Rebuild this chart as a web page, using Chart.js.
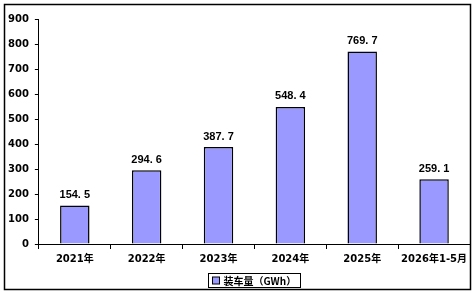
<!DOCTYPE html>
<html>
<head>
<meta charset="utf-8">
<script src="https://cdn.jsdelivr.net/npm/chart.js@4/dist/chart.umd.min.js"></script>
<style>
  html, body { margin: 0; padding: 0; background: #fff; }
  #wrap { width: 475px; height: 294px; }
</style>
</head>
<body>
<div id="wrap"><canvas id="c" width="475" height="294"></canvas></div>
<script>
// données
const categories = ['2021年', '2022年', '2023年', '2024年', '2025年', '2026年1-5月'];
const values = [154.5, 294.6, 387.7, 548.4, 769.7, 259.1];
const yTicks = [0, 100, 200, 300, 400, 500, 600, 700, 800, 900];
const seriesName = '装车量（GWh）';

const fontBold = { family: 'Verdana, "DejaVu Sans", "Noto Sans CJK SC", sans-serif', size: 10, weight: 'bold' };

// cadre extérieur, légende encadrée et étiquettes de valeur
const decor = {
    id: 'decor',
    afterDraw(chart) {
        const ctx = chart.ctx;
        ctx.save();
        ctx.strokeStyle = '#000';
        ctx.lineWidth = 1.5;
        ctx.strokeRect(4.5, 4.5, 466, 285);

        // légende
        ctx.font = 'bold 10px "Noto Sans CJK SC", sans-serif';
        const tw = ctx.measureText(seriesName).width;
        const boxW = Math.round(tw + 19);
        const lx = Math.round((chart.chartArea.left + chart.chartArea.right) / 2 - boxW / 2) + 0.5;
        const ly = 273.5;
        ctx.lineWidth = 1;
        ctx.strokeRect(lx, ly, boxW, 14);
        ctx.fillStyle = '#9999FF';
        ctx.fillRect(lx + 4, ly + 3.5, 7, 7);
        ctx.strokeRect(lx + 4, ly + 3.5, 7, 7);
        ctx.fillStyle = '#000';
        ctx.textAlign = 'left';
        ctx.textBaseline = 'middle';
        ctx.fillText(seriesName, lx + 15, ly + 7.5);

        // valeurs au-dessus des barres
        ctx.font = 'bold 11px "Liberation Sans", Arial, sans-serif';
        ctx.textAlign = 'center';
        ctx.textBaseline = 'bottom';
        const meta = chart.getDatasetMeta(0);
        meta.data.forEach((bar, i) => {
            const txt = values[i].toFixed(1).replace('.', '. ');
            ctx.fillText(txt, bar.x, bar.y - 5);
        });
        ctx.restore();
    }
};

new Chart(document.getElementById('c'), {
    type: 'bar',
    data: {
        labels: categories,
        datasets: [{
            label: seriesName,
            data: values,
            backgroundColor: '#9999FF',
            borderColor: '#000',
            borderWidth: 1.5,
            barPercentage: 0.41,
            categoryPercentage: 1
        }]
    },
    options: {
        responsive: false,
        animation: false,
        layout: { padding: { left: 2, right: 5, top: 19, bottom: 25 } },
        plugins: {
            legend: { display: false },
            tooltip: { enabled: false }
        },
        scales: {
            x: {
                grid: { offset: true, drawOnChartArea: false, drawTicks: true, tickLength: 5, color: '#000' },
                border: { color: '#000', width: 1 },
                ticks: { color: '#000', font: fontBold, maxRotation: 0, padding: 4 }
            },
            y: {
                min: 0,
                max: 900,
                afterBuildTicks(axis) { axis.ticks = yTicks.map(v => ({ value: v })); },
                grid: { drawOnChartArea: false, drawTicks: true, tickLength: 4, color: '#000' },
                border: { color: '#000', width: 1 },
                ticks: { color: '#000', font: fontBold, padding: 6 }
            }
        }
    },
    plugins: [decor]
});
</script>
</body>
</html>
